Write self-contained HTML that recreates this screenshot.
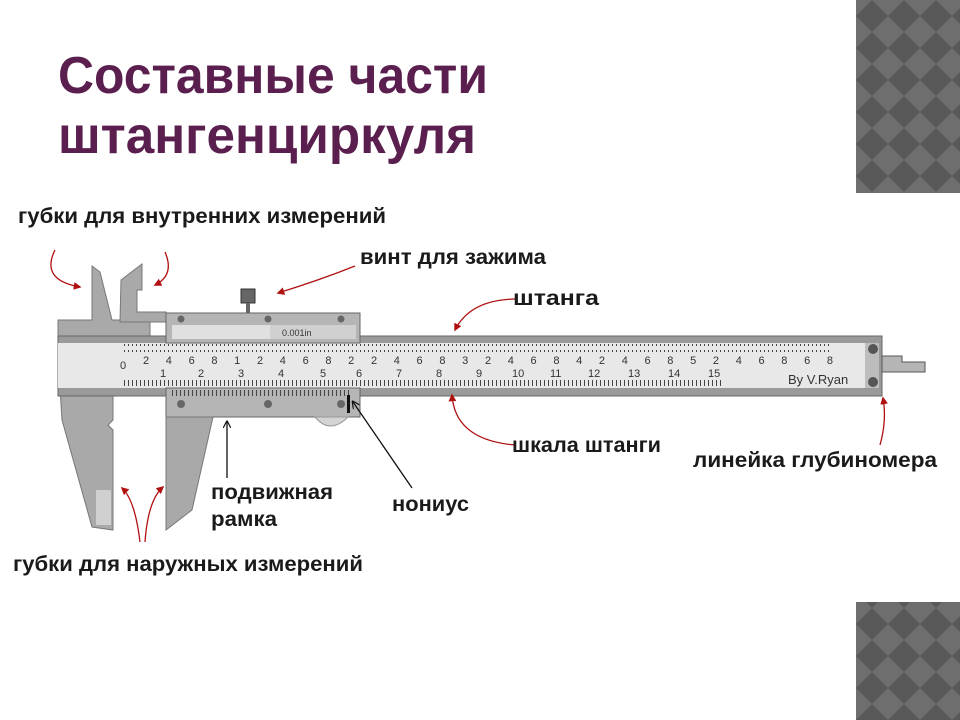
<!DOCTYPE html>
<html><head><meta charset="utf-8"><style>
html,body{margin:0;padding:0;background:#fff;width:960px;height:720px;overflow:hidden}
svg{display:block}
.t{font-family:"Liberation Sans","DejaVu Sans",sans-serif;font-weight:bold;fill:#1a1a1a}
</style></head><body>
<svg width="960" height="720" viewBox="0 0 960 720" xmlns="http://www.w3.org/2000/svg">
<defs>
<pattern id="dia" width="32" height="32" patternUnits="userSpaceOnUse" x="856" y="0">
<rect width="32" height="32" fill="#6e6e6e"/>
<polygon points="16,0 32,16 16,32 0,16" fill="#595959"/>
</pattern>
<pattern id="tk" width="4" height="10" patternUnits="userSpaceOnUse">
<rect x="0" y="0" width="1" height="6" fill="#444"/>
</pattern>
<marker id="ar" viewBox="0 0 10 10" refX="8" refY="5" markerWidth="6" markerHeight="6" orient="auto"><path d="M0,0 L10,5 L0,10z" fill="#b01010"/></marker>
<marker id="ak" viewBox="0 0 10 10" refX="8" refY="5" markerWidth="6" markerHeight="6" orient="auto"><path d="M0,0 L10,5 L0,10" fill="none" stroke="#111" stroke-width="1.5"/></marker>
</defs>
<rect x="856" y="0" width="104" height="193" fill="url(#dia)"/>
<rect x="856" y="602" width="104" height="118" fill="url(#dia)"/>
<text class="t" x="58" y="93" font-size="52" style="fill:#5b1f4f" textLength="430" lengthAdjust="spacingAndGlyphs">Составные части</text>
<text class="t" x="58" y="153" font-size="52" style="fill:#5b1f4f" textLength="418" lengthAdjust="spacingAndGlyphs">штангенциркуля</text>

<path d="M58,320 L92,320 L92,266 L100,272 L112,320 L150,320 L150,345 L58,345 Z" fill="#a9a9a9" stroke="#777"/>
<path d="M60,388 L113,388 L113,420 L108,425 L113,430 L113,530 L92,527 L62,420 Z" fill="#a9a9a9" stroke="#777"/>
<rect x="96" y="490" width="15" height="35" fill="#d0d0d0"/>
<path d="M120,322 L121,280 L142,264 L142,290 L137,290 L137,312 L166,312 L166,322 Z" fill="#a9a9a9" stroke="#777"/>
<rect x="58" y="336" width="824" height="60" fill="#9a9a9a" stroke="#666"/>
<rect x="58" y="343" width="818" height="45" fill="#e8e8e8"/>
<rect x="865" y="343" width="14" height="45" fill="#bdbdbd"/>
<circle cx="873" cy="349" r="5" fill="#555"/><circle cx="873" cy="382" r="5" fill="#555"/>
<path d="M882,356 L902,356 L902,362 L925,362 L925,372 L882,372 Z" fill="#b5b5b5" stroke="#555"/>
<rect x="122" y="344" width="710" height="8" fill="url(#tk)"/>
<rect x="122" y="379" width="600" height="8" fill="url(#tk)"/>
<g class="t" font-size="11" style="font-weight:normal;fill:#333">
<text x="120" y="369">0</text><text x="143" y="364" textLength="690" lengthAdjust="spacing">2 4 6 8 1 2 4 6 8 2 2 4 6 8 3 2 4 6 8 4 2 4 6 8 5 2 4 6 8 6 8</text>
<text x="160" y="377">1</text><text x="198" y="377">2</text><text x="238" y="377">3</text><text x="278" y="377">4</text><text x="320" y="377">5</text><text x="356" y="377">6</text><text x="396" y="377">7</text><text x="436" y="377">8</text><text x="476" y="377">9</text><text x="512" y="377">10</text><text x="550" y="377">11</text><text x="588" y="377">12</text><text x="628" y="377">13</text><text x="668" y="377">14</text><text x="708" y="377">15</text>
<text x="788" y="384" font-size="13">By V.Ryan</text>
</g>
<rect x="166" y="313" width="194" height="30" fill="#b5b5b5" stroke="#666"/>
<rect x="172" y="325" width="98" height="14" fill="#e0e0e0"/>
<rect x="270" y="325" width="86" height="14" fill="#d0d0d0"/>
<text x="282" y="336" font-family="Liberation Sans" font-size="9" fill="#333">0.001in</text>
<rect x="166" y="388" width="194" height="29" fill="#b5b5b5" stroke="#666"/>
<rect x="172" y="389" width="180" height="8" fill="url(#tk)"/>
<circle cx="181" cy="319" r="3.5" fill="#666"/><circle cx="268" cy="319" r="3.5" fill="#666"/><circle cx="341" cy="319" r="3.5" fill="#666"/>
<circle cx="181" cy="404" r="4" fill="#666"/><circle cx="268" cy="404" r="4" fill="#666"/><circle cx="341" cy="404" r="4" fill="#666"/>
<path d="M315,417 Q330,435 348,417 Z" fill="#d4d4d4" stroke="#999"/>
<rect x="241" y="289" width="14" height="14" fill="#666" stroke="#333"/>
<rect x="246" y="303" width="4" height="10" fill="#666"/>
<rect x="347" y="395" width="3" height="18" fill="#111"/>
<path d="M166,417 L213,417 L192,510 L166,530 Z" fill="#a9a9a9" stroke="#777"/>

<g fill="none" stroke="#b01010" stroke-width="1.3" marker-end="url(#ar)">
<path d="M55,250 Q40,280 80,287"/>
<path d="M165,252 Q175,275 155,285"/>
<path d="M355,266 Q320,280 278,293"/>
<path d="M515,299 Q470,300 455,330"/>
<path d="M515,445 Q455,440 452,395"/>
<path d="M880,445 Q887,420 883,398"/>
<path d="M140,542 Q135,500 122,488"/>
<path d="M145,542 Q148,500 163,487"/>
</g>
<g fill="none" stroke="#111" stroke-width="1.3" marker-end="url(#ak)">
<path d="M227,478 L227,422"/>
<path d="M412,488 L353,402"/>
</g>

<g class="t" font-size="21">
<text x="18" y="223" textLength="368" lengthAdjust="spacingAndGlyphs">губки для внутренних измерений</text>
<text x="360" y="264" textLength="186" lengthAdjust="spacingAndGlyphs">винт для зажима</text>
<text x="513" y="305" textLength="86" lengthAdjust="spacingAndGlyphs">штанга</text>
<text x="512" y="452" textLength="149" lengthAdjust="spacingAndGlyphs">шкала штанги</text>
<text x="693" y="467" textLength="244" lengthAdjust="spacingAndGlyphs">линейка глубиномера</text>
<text x="211" y="499" textLength="122" lengthAdjust="spacingAndGlyphs">подвижная</text>
<text x="211" y="526" textLength="66" lengthAdjust="spacingAndGlyphs">рамка</text>
<text x="392" y="511" textLength="77" lengthAdjust="spacingAndGlyphs">нониус</text>
<text x="13" y="571" textLength="350" lengthAdjust="spacingAndGlyphs">губки для наружных измерений</text>
</g>
</svg>
</body></html>
